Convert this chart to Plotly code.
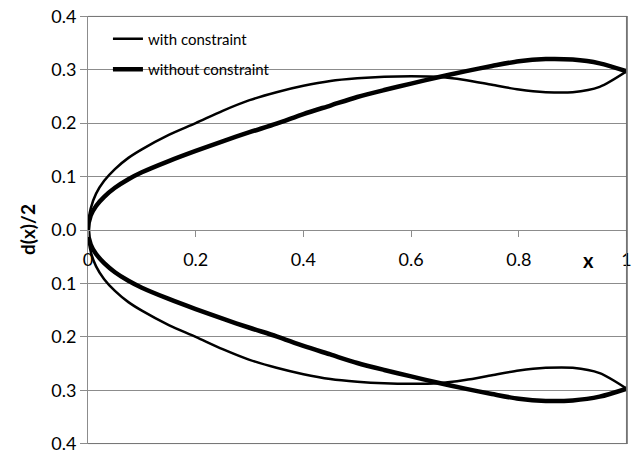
import plotly.graph_objects as go

# x positions (fraction of length)
x_vals = [0, 0.005, 0.015, 0.03, 0.05, 0.075, 0.1, 0.15, 0.2, 0.25, 0.3, 0.35, 0.4,
          0.45, 0.5, 0.55, 0.6, 0.65, 0.7, 0.75, 0.8, 0.85, 0.9, 0.95, 1.0]
# half-diameter, with constraint (thin)
with_constraint = [0, 0.04, 0.068, 0.092, 0.114, 0.135, 0.151, 0.178, 0.2, 0.223,
                   0.243, 0.258, 0.27, 0.279, 0.284, 0.287, 0.288, 0.287, 0.281,
                   0.272, 0.263, 0.258, 0.258, 0.268, 0.297]
# half-diameter, without constraint (thick)
without_constraint = [0, 0.027, 0.045, 0.062, 0.079, 0.095, 0.108, 0.129, 0.148,
                      0.166, 0.183, 0.199, 0.217, 0.233, 0.249, 0.262, 0.274, 0.286,
                      0.297, 0.307, 0.316, 0.32, 0.319, 0.312, 0.297]

y_tickvals = [0.4, 0.3, 0.2, 0.1, 0.0, -0.1, -0.2, -0.3, -0.4]
y_ticktext = ["0.4", "0.3", "0.2", "0.1", "0.0", "0.1", "0.2", "0.3", "0.4"]
x_tickvals = [0, 0.2, 0.4, 0.6, 0.8, 1]
x_ticktext = ["0", "0.2", "0.4", "0.6", "0.8", "1"]
x_frame = [1]


def closed_profile(xs, ys):
    # lower branch from x=1 back to 0, then upper branch from 0 to 1
    xx = list(reversed(xs)) + xs[1:]
    yy = [-v for v in reversed(ys)] + ys[1:]
    return xx, yy


FONT = "Lato, 'Open Sans', sans-serif"
GRID = "#8c8c8c"
BOX = "#6e6e6e"

fig = go.Figure()
xx, yy = closed_profile(x_vals, with_constraint)
fig.add_trace(go.Scatter(x=xx, y=yy, mode="lines", name="with constraint",
                         legendgroup="a",
                         line=dict(color="black", width=2.5, shape="spline", smoothing=0.8)))
xx, yy = closed_profile(x_vals, without_constraint)
fig.add_trace(go.Scatter(x=xx, y=yy, mode="lines", name="without constraint",
                         legendgroup="b",
                         line=dict(color="black", width=4.5, shape="spline", smoothing=0.8)))

# plot frame (top, right, bottom) as paper-referenced line segments
frame = [dict(x0=0, x1=1, y0=0.999, y1=0.999),
         dict(x0=0.999, x1=0.999, y0=0, y1=1),
         dict(x0=0, x1=1, y0=0.001, y1=0.001)]
shapes = [dict(type="line", xref="paper", yref="paper", layer="above",
               line=dict(color=BOX, width=1), **f) for f in frame]

fig.update_layout(
    width=633, height=450,
    margin=dict(l=88, r=6, t=16, b=6, autoexpand=False),
    paper_bgcolor="white", plot_bgcolor="white",
    font=dict(family=FONT, size=14, color="black"),
    showlegend=True,
    legend=dict(x=0.037, y=0.985, xanchor="left", yanchor="top",
                bgcolor="rgba(0,0,0,0)", font=dict(size=15, family=FONT),
                tracegroupgap=8, itemwidth=30),
    xaxis=dict(range=[0, 1.0008], tickvals=x_tickvals, ticktext=x_ticktext,
               anchor="free", position=0.5, showline=True, linecolor=GRID,
               linewidth=1, ticks="outside", ticklen=6, tickcolor=GRID,
               showgrid=False, zeroline=False, ticklabelstandoff=7,
               ticklabeloverflow="allow",
               minor=dict(tickvals=x_frame, showgrid=True, gridcolor=BOX,
                          gridwidth=1, ticks=""),
               tickfont=dict(size=18, family=FONT)),
    yaxis=dict(range=[-0.4006, 0.4006], tickvals=y_tickvals, ticktext=y_ticktext,
               showline=True, mirror=True, linecolor=GRID, linewidth=1,
               ticks="outside", ticklen=7, tickcolor=GRID, showgrid=True,
               gridcolor=GRID, gridwidth=1, zeroline=False,
               ticklabeloverflow="allow",
               tickfont=dict(size=18, family=FONT)),
    shapes=shapes,
    annotations=[
        dict(text="<b>x</b>", xref="paper", yref="paper", x=0.928, y=0.43,
             xanchor="center", yanchor="middle",
             showarrow=False, font=dict(size=20, family=FONT)),
        dict(text="<b>d(x)/2</b>", xref="paper", yref="paper", x=-0.113, y=0.5,
             xanchor="center", yanchor="middle",
             textangle=-90, showarrow=False, font=dict(size=19, family=FONT)),
    ],
)

fig.write_html("out.html", config={"displayModeBar": False},
               post_script="document.documentElement.style.margin='0px';"
                           "document.body.style.margin='0px';"
                           "document.body.style.overflow='hidden';")
